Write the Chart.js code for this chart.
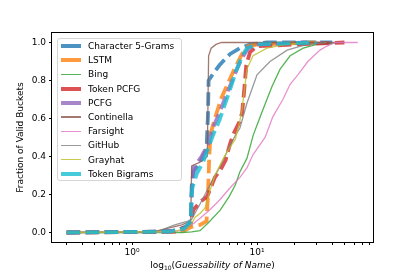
<!DOCTYPE html>
<html lang="en">
<head>
<meta charset="UTF-8">
<title>Guessability of Name</title>
<script src="https://cdn.jsdelivr.net/npm/chart.js"></script>
<style>
    body { margin: 0; background: #fff; }
    .wrap { position: relative; width: 415px; height: 277px; font-family: "DejaVu Sans", sans-serif; }
    #legend {
        position: absolute; left: 57px; top: 38px; width: 125px; height: 143px;
        border: 1px solid #d6d6d6; border-radius: 3px; background: rgba(255,255,255,0.85);
        font-size: 9px; color: #000; box-sizing: border-box;
    }
    .item { position: absolute; left: 0; width: 100%; height: 14px; }
    .swatch { position: absolute; left: 3px; width: 20px; }
    .label { position: absolute; left: 30px; top: 0; line-height: 14px; white-space: nowrap; }
    #xtitle { position: absolute; left: 52px; width: 321px; top: 260px; text-align: center; font-size: 9px; }
    #xtitle sub { font-size: 6px; vertical-align: -2px; }
</style>
</head>
<body>
<div class="wrap">
    <canvas id="cdf"></canvas>
    <div id="legend"></div>
    <div id="xtitle">log<sub>10</sub>(<i>Guessability of Name</i>)</div>
</div>
<script>
// CDF points [guessability, fraction of valid buckets]
const char5Grams = [[0.3,0],[1.5,0.003],[2.2,0.01],[2.7,0.03],[2.95,0.05],[3.0,0.24],[3.1,0.32],[3.5,0.37],[3.95,0.44],[4.05,0.62],[4.1,0.80],[4.5,0.84],[5.0,0.88],[5.5,0.91],[6.1,0.94],[7.3,0.97],[8.8,0.99],[12,1.0],[40,1.0]];
const lstm = [[0.3,0],[2.0,0.003],[2.6,0.01],[3.0,0.03],[3.5,0.04],[3.95,0.06],[4.05,0.2],[4.15,0.40],[4.25,0.52],[4.6,0.60],[5.2,0.71],[5.9,0.79],[6.7,0.87],[7.6,0.94],[8.5,0.98],[10,0.99],[30,1.0]];
const bing = [[0.3,0],[2.5,0],[3.0,0.003],[3.5,0.01],[4.06,0.05],[5.06,0.116],[6.0,0.19],[6.7,0.25],[7.3,0.32],[8.3,0.39],[9.3,0.51],[10.2,0.58],[11.2,0.65],[13.2,0.77],[15.3,0.86],[18.4,0.93],[23.4,0.97],[30,0.99],[46,1.0]];
const tokenPcfg = [[0.3,0],[2.2,0.005],[2.9,0.04],[3.1,0.12],[3.5,0.16],[4.0,0.19],[4.6,0.29],[5.1,0.33],[5.6,0.38],[6.1,0.47],[6.5,0.52],[7.2,0.58],[7.6,0.63],[7.9,0.75],[8.2,0.88],[8.8,0.95],[10,0.98],[20,0.99],[50,1.0]];
const pcfg = [[0.3,0],[2.0,0.005],[2.6,0.02],[2.95,0.05],[3.0,0.2],[3.1,0.34],[3.6,0.40],[4.1,0.47],[4.5,0.56],[5.0,0.63],[5.9,0.75],[6.8,0.85],[7.6,0.92],[8.5,0.97],[10,0.99],[25,1.0]];
const continella = [[0.3,0],[1.5,0.005],[2.5,0.04],[2.95,0.06],[3.0,0.35],[3.5,0.37],[4.0,0.40],[4.1,0.93],[4.3,0.97],[4.7,0.99],[5.2,1.0],[50,1.0]];
const farsight = [[0.3,0],[1.5,0.002],[2.4,0.01],[3.0,0.04],[3.5,0.075],[4.2,0.12],[5.0,0.17],[6.0,0.23],[7.3,0.29],[8.3,0.34],[9.3,0.41],[10.5,0.46],[11.6,0.50],[13.4,0.61],[16.1,0.70],[18.4,0.78],[21.2,0.83],[25.5,0.90],[31.9,0.96],[36,0.98],[42,1.0],[64,1.0]];
const github = [[0.3,0],[1.4,0],[1.67,0.01],[2.2,0.04],[2.8,0.06],[3.0,0.07],[3.5,0.15],[4.2,0.25],[5.1,0.35],[6.1,0.46],[6.7,0.51],[7.3,0.55],[8.3,0.68],[10,0.83],[12.7,0.90],[17.4,0.96],[25,0.99],[36,1.0]];
const grayhat = [[0.3,0],[2.2,0.005],[2.9,0.03],[3.2,0.08],[3.5,0.10],[3.85,0.13],[4.2,0.22],[4.6,0.30],[5.1,0.36],[5.6,0.41],[6.1,0.45],[6.7,0.49],[7.3,0.59],[7.6,0.65],[8.3,0.86],[9.3,0.93],[12,0.97],[17,0.99],[26,1.0]];
const tokenBigrams = [[0.3,0],[2.0,0.005],[2.6,0.02],[2.95,0.06],[3.0,0.2],[3.05,0.24],[3.3,0.31],[3.7,0.37],[4.1,0.45],[4.5,0.52],[5.0,0.59],[6.0,0.74],[6.8,0.85],[7.6,0.93],[8.3,0.97],[10,0.99],[30,1.0]];

const seriesNames = ['Character 5-Grams', 'LSTM', 'Bing', 'Token PCFG', 'PCFG', 'Continella', 'Farsight', 'GitHub', 'Grayhat', 'Token Bigrams'];
const seriesData = [char5Grams, lstm, bing, tokenPcfg, pcfg, continella, farsight, github, grayhat, tokenBigrams];
const seriesColors = ['#1f77b4', '#ff7f0e', '#2ca02c', '#d62728', '#9467bd', '#8c564b', '#e377c2', '#7f7f7f', '#bcbd22', '#17becf'];
const dashedSeries = [true, true, false, true, true, false, false, false, false, true];

const xTicks = [0.3,0.4,0.5,0.6,0.7,0.8,0.9,1,2,3,4,5,6,7,8,9,10,20,30,40,50,60,70,80];
const xTickLabels = { 1: '10\u2070', 10: '10\u00b9' };
const yTicks = [0, 0.2, 0.4, 0.6, 0.8, 1.0];

function fade(hex, a) {
    const n = parseInt(hex.slice(1), 16);
    return 'rgba(' + (n >> 16) + ',' + ((n >> 8) & 255) + ',' + (n & 255) + ',' + a + ')';
}

const datasets = seriesData.map(function(pts, i) {
    return {
        label: seriesNames[i],
        data: pts.map(function(p) { return { x: p[0], y: p[1] }; }),
        borderColor: fade(seriesColors[i], 0.8),
        borderWidth: dashedSeries[i] ? 3.8 : 1.3,
        borderDash: dashedSeries[i] ? [13.5, 5.5] : [],
        pointRadius: 0,
        tension: 0,
        fill: false,
        order: 10 - i
    };
});

// black frame round the plot, like matplotlib spines
const frame = {
    id: 'frame',
    afterDatasetsDraw(chart) {
        const a = chart.chartArea, ctx = chart.ctx;
        ctx.save();
        ctx.strokeStyle = '#000';
        ctx.lineWidth = 1;
        ctx.strokeRect(a.left - 0.5, a.top - 0.5, a.right - a.left + 1, a.bottom - a.top + 1);
        ctx.restore();
    }
};

Chart.defaults.font.family = '"DejaVu Sans", sans-serif';
Chart.defaults.font.size = 9;
Chart.defaults.color = '#000';

new Chart(document.getElementById('cdf'), {
    type: 'line',
    data: { datasets: datasets },
    plugins: [frame],
    options: {
        responsive: true,
        maintainAspectRatio: false,
        animation: false,
        layout: { padding: { top: 33, right: 42, left: 0, bottom: 0 } },
        plugins: { legend: { display: false }, tooltip: { enabled: false } },
        scales: {
            x: {
                type: 'logarithmic',
                min: 0.229,
                max: 84.7,
                border: { display: false },
                grid: { drawOnChartArea: false, tickLength: 3, tickColor: '#000' },
                ticks: {
                    autoSkip: false, maxRotation: 0, padding: 2,
                    callback: function(v) { return xTickLabels[v] || ''; }
                },
                afterBuildTicks: function(scale) {
                    scale.ticks = xTicks.map(function(v) { return { value: v }; });
                },
                afterFit: function(scale) { scale.height = 35; }
            },
            y: {
                min: -0.05,
                max: 1.05,
                border: { display: false },
                grid: { drawOnChartArea: false, tickLength: 3, tickColor: '#000' },
                ticks: {
                    padding: 3,
                    callback: function(v) { return v.toFixed(1); }
                },
                afterBuildTicks: function(scale) {
                    scale.ticks = yTicks.map(function(v) { return { value: v }; });
                },
                title: { display: true, text: 'Fraction of Valid Buckets', padding: { top: 15, bottom: 0 } },
                afterFit: function(scale) { scale.width = 52; }
            }
        }
    }
});

// legend box in the upper left of the plot
const legend = document.getElementById('legend');
seriesNames.forEach(function(name, i) {
    const item = document.createElement('div');
    item.className = 'item';
    item.style.top = (i * 14.2) + 'px';
    const sw = document.createElement('div');
    sw.className = 'swatch';
    const h = dashedSeries[i] ? 4 : 1.3;
    sw.style.height = h + 'px';
    sw.style.top = (7 - h / 2) + 'px';
    sw.style.background = fade(seriesColors[i], 0.8);
    const lab = document.createElement('div');
    lab.className = 'label';
    lab.textContent = name;
    item.appendChild(sw);
    item.appendChild(lab);
    legend.appendChild(item);
});
</script>
</body>
</html>
